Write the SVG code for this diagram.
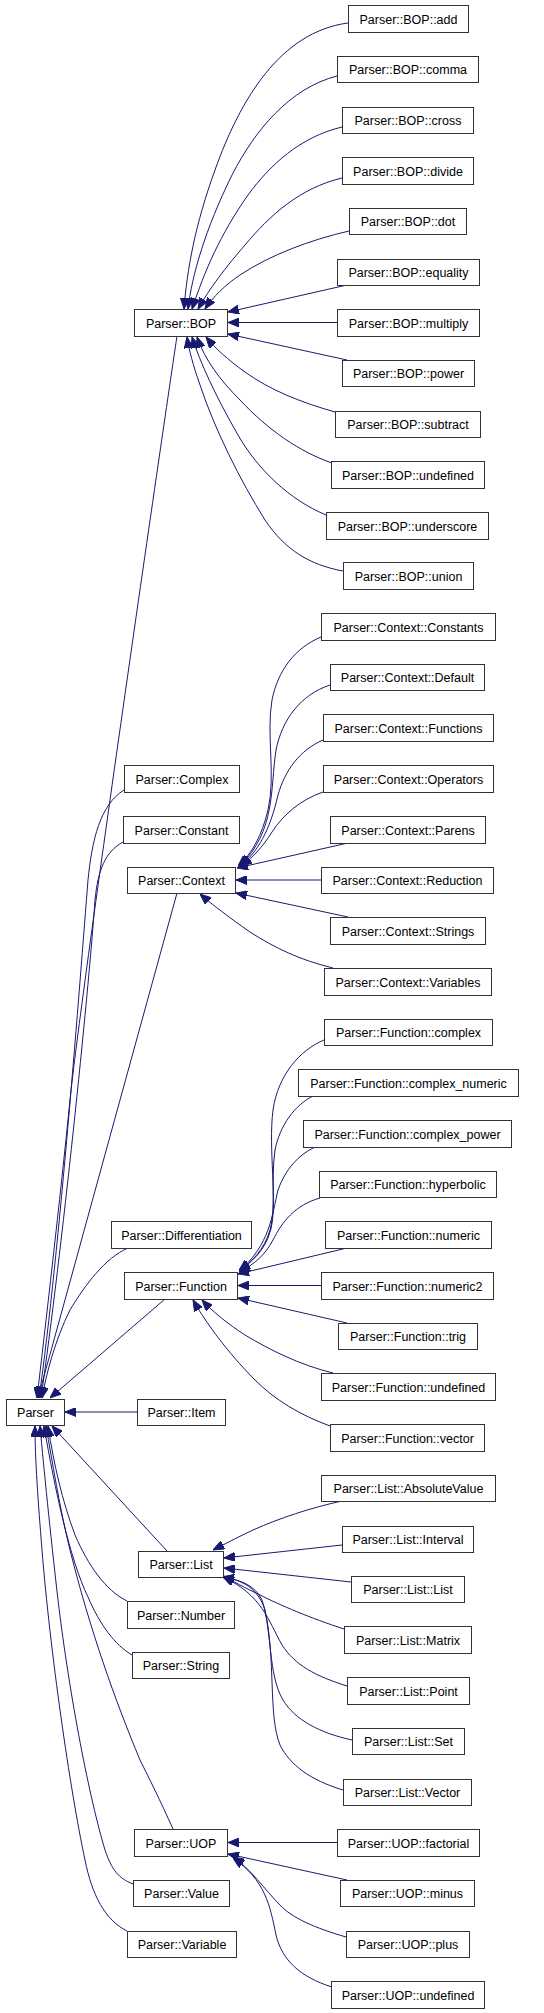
<svg xmlns="http://www.w3.org/2000/svg" width="544" height="2013" viewBox="0 0 544 2013">
<style>
.n rect{fill:#fff;stroke:#333;stroke-width:1}
.n text{font-family:"Liberation Sans",Arial,sans-serif;font-size:12.5px;text-anchor:middle;fill:#000}
#edges path{fill:none;stroke:#191970;stroke-width:1;marker-end:url(#a)}
</style>
<defs>
<marker id="a" markerUnits="userSpaceOnUse" viewBox="0 0 11 9" refX="11" refY="4.5" markerWidth="11" markerHeight="9" orient="auto">
<path d="M0,0 L11,4.5 L0,9 z" fill="#191970" stroke="#191970"/>
</marker>
</defs>
<rect width="544" height="2013" fill="#fff"/>
<g id="edges">
<!-- BOP children -->
<path d="M348,23 C280,32 240,100 215,170 C195,225 187,270 184,309"/>
<path d="M337,76 C290,88 255,130 232,175 C205,230 192,275 188,309"/>
<path d="M342,127 C300,137 270,165 248,195 C220,235 205,270 192,309"/>
<path d="M342,178 C300,188 270,215 245,245 C225,268 210,288 198,309"/>
<path d="M349,231 C310,240 270,255 240,275 C225,285 213,297 205,309"/>
<path d="M347,285 L228,312"/>
<path d="M337,322.5 L228,322.5"/>
<path d="M347,360 L228,334"/>
<path d="M335,412 C300,402 270,390 245,372 C228,360 215,348 206,337"/>
<path d="M332,463 C300,452 268,430 240,400 C220,380 205,360 197,337"/>
<path d="M326,515 C290,500 258,470 238,435 C215,395 200,362 192,337"/>
<path d="M343,571 C310,565 285,550 265,520 C240,480 215,430 200,385 C193,365 189,350 187,337"/>
<!-- Context children -->
<path d="M321,637 C295,648 278,670 272,700 C266,735 276,775 268,810 C262,835 252,854 238,866"/>
<path d="M330,685 C300,695 282,720 276,750 C270,790 276,830 240,866"/>
<path d="M323,740 C300,750 285,770 278,795 C270,830 258,852 240,866"/>
<path d="M323,792 C300,800 283,815 272,832 C262,848 252,858 241,866"/>
<path d="M348,843 L237,868"/>
<path d="M321,880 L236,880"/>
<path d="M348,917 L236,893"/>
<path d="M333,968 C300,960 275,948 250,932 C230,918 214,906 200,894"/>
<!-- Function children -->
<path d="M324,1040 C300,1050 278,1075 273,1110 C268,1150 278,1200 270,1230 C264,1250 252,1262 239,1270"/>
<path d="M313,1096 C295,1105 280,1125 275,1150 C270,1185 278,1215 268,1238 C262,1252 252,1262 239,1271"/>
<path d="M315,1147 C298,1155 285,1170 278,1190 C272,1215 270,1245 239,1271"/>
<path d="M320,1198 C295,1205 282,1222 273,1240 C265,1255 255,1264 239,1272"/>
<path d="M347,1248 L238,1274"/>
<path d="M321,1285.5 L238,1285.5"/>
<path d="M347,1323 L238,1298"/>
<path d="M333,1373 C300,1365 270,1350 245,1335 C228,1324 213,1312 202,1300"/>
<path d="M330,1426 C300,1415 275,1400 255,1380 C235,1360 210,1330 193,1300"/>
<!-- List children -->
<path d="M342,1501 C310,1508 280,1518 253,1530 C238,1537 225,1544 213,1550"/>
<path d="M342,1545 L224,1558"/>
<path d="M351,1582 L224,1568"/>
<path d="M344,1629 C310,1618 280,1605 260,1595 C245,1588 233,1581 223,1576"/>
<path d="M347,1686 C315,1676 295,1665 282,1645 C268,1620 262,1595 223,1577"/>
<path d="M352,1740 C320,1733 295,1720 283,1700 C268,1675 272,1630 262,1600 C255,1585 240,1580 223,1577"/>
<path d="M343,1790 C310,1780 290,1765 280,1745 C268,1715 276,1660 265,1610 C258,1588 242,1580 223,1577"/>
<!-- UOP children -->
<path d="M337,1842.5 L228,1842.5"/>
<path d="M347,1880 L228,1854"/>
<path d="M346,1937 C315,1928 292,1918 280,1905 C265,1890 250,1868 233,1857"/>
<path d="M332,1987 C300,1977 282,1960 276,1935 C270,1905 265,1880 233,1858"/>
<!-- Parser children -->
<path d="M177,336 C160,450 80,1000 70,1100 C60,1200 45,1330 37,1398"/>
<path d="M124,790 C100,805 92,840 88,880 C80,980 60,1250 39,1398"/>
<path d="M123,842 C105,852 98,870 95,900 C88,1000 62,1250 41,1398"/>
<path d="M177,893 L38,1398"/>
<path d="M128,1248 C105,1258 85,1285 70,1310 C55,1340 46,1375 42,1398"/>
<path d="M165,1299 L50,1398"/>
<path d="M137,1412 L65,1412"/>
<path d="M167,1551 L52,1426"/>
<path d="M127,1601 C105,1590 88,1565 75,1535 C62,1500 54,1465 48,1426"/>
<path d="M132,1655 C115,1645 100,1625 88,1597 C70,1560 55,1490 44,1426"/>
<path d="M173,1829 C160,1800 150,1780 140,1760 C115,1700 90,1630 70,1550 C60,1510 52,1460 46,1426"/>
<path d="M133,1884 C118,1878 112,1870 105,1850 C90,1800 70,1700 58,1600 C50,1530 44,1470 40,1426"/>
<path d="M127,1931 C105,1920 92,1895 85,1860 C70,1790 50,1650 42,1550 C38,1500 35,1460 35,1426"/>
</g>
<g id="Parser" class="n"><rect x="6.5" y="1399.5" width="58" height="26"/><text x="35.5" y="1417">Parser</text></g>
<g id="BOP" class="n"><rect x="134.5" y="309.5" width="93" height="27"/><text x="181" y="327.5">Parser::BOP</text></g>
<g id="Complex" class="n"><rect x="124.5" y="765.5" width="115" height="27"/><text x="182" y="783.5">Parser::Complex</text></g>
<g id="Constant" class="n"><rect x="123.5" y="816.5" width="116" height="27"/><text x="181.5" y="834.5">Parser::Constant</text></g>
<g id="Context" class="n"><rect x="127.5" y="867.5" width="108" height="26"/><text x="181.5" y="885">Parser::Context</text></g>
<g id="Differentiation" class="n"><rect x="111.5" y="1221.5" width="140" height="27"/><text x="181.5" y="1239.5">Parser::Differentiation</text></g>
<g id="Function" class="n"><rect x="124.5" y="1272.5" width="113" height="27"/><text x="181" y="1290.5">Parser::Function</text></g>
<g id="Item" class="n"><rect x="137.5" y="1399.5" width="88" height="26"/><text x="181.5" y="1417">Parser::Item</text></g>
<g id="List" class="n"><rect x="138.5" y="1551.5" width="85" height="26"/><text x="181" y="1569">Parser::List</text></g>
<g id="Number" class="n"><rect x="127.5" y="1601.5" width="107" height="27"/><text x="181" y="1619.5">Parser::Number</text></g>
<g id="String" class="n"><rect x="132.5" y="1652.5" width="97" height="26"/><text x="181" y="1670">Parser::String</text></g>
<g id="UOP" class="n"><rect x="134.5" y="1829.5" width="93" height="27"/><text x="181" y="1847.5">Parser::UOP</text></g>
<g id="Value" class="n"><rect x="133.5" y="1880.5" width="96" height="26"/><text x="181.5" y="1898">Parser::Value</text></g>
<g id="Variable" class="n"><rect x="127.5" y="1931.5" width="109" height="26"/><text x="182" y="1949">Parser::Variable</text></g>
<g id="BOP_add" class="n"><rect x="348.5" y="5.5" width="120" height="27"/><text x="408.5" y="23.5">Parser::BOP::add</text></g>
<g id="BOP_comma" class="n"><rect x="337.5" y="56.5" width="141" height="26"/><text x="408" y="74">Parser::BOP::comma</text></g>
<g id="BOP_cross" class="n"><rect x="342.5" y="107.5" width="131" height="26"/><text x="408" y="125">Parser::BOP::cross</text></g>
<g id="BOP_divide" class="n"><rect x="342.5" y="157.5" width="131" height="27"/><text x="408" y="175.5">Parser::BOP::divide</text></g>
<g id="BOP_dot" class="n"><rect x="349.5" y="208.5" width="117" height="26"/><text x="408" y="226">Parser::BOP::dot</text></g>
<g id="BOP_equality" class="n"><rect x="337.5" y="259.5" width="142" height="26"/><text x="408.5" y="277">Parser::BOP::equality</text></g>
<g id="BOP_multiply" class="n"><rect x="337.5" y="309.5" width="142" height="27"/><text x="408.5" y="327.5">Parser::BOP::multiply</text></g>
<g id="BOP_power" class="n"><rect x="342.5" y="360.5" width="132" height="26"/><text x="408.5" y="378">Parser::BOP::power</text></g>
<g id="BOP_subtract" class="n"><rect x="335.5" y="411.5" width="145" height="26"/><text x="408" y="429">Parser::BOP::subtract</text></g>
<g id="BOP_undefined" class="n"><rect x="331.5" y="461.5" width="153" height="27"/><text x="408" y="479.5">Parser::BOP::undefined</text></g>
<g id="BOP_underscore" class="n"><rect x="326.5" y="512.5" width="162" height="27"/><text x="407.5" y="530.5">Parser::BOP::underscore</text></g>
<g id="BOP_union" class="n"><rect x="343.5" y="562.5" width="130" height="27"/><text x="408.5" y="580.5">Parser::BOP::union</text></g>
<g id="Context_Constants" class="n"><rect x="321.5" y="613.5" width="174" height="27"/><text x="408.5" y="631.5">Parser::Context::Constants</text></g>
<g id="Context_Default" class="n"><rect x="330.5" y="664.5" width="154" height="26"/><text x="407.5" y="682">Parser::Context::Default</text></g>
<g id="Context_Functions" class="n"><rect x="323.5" y="714.5" width="170" height="27"/><text x="408.5" y="732.5">Parser::Context::Functions</text></g>
<g id="Context_Operators" class="n"><rect x="323.5" y="765.5" width="170" height="27"/><text x="408.5" y="783.5">Parser::Context::Operators</text></g>
<g id="Context_Parens" class="n"><rect x="330.5" y="816.5" width="155" height="27"/><text x="408" y="834.5">Parser::Context::Parens</text></g>
<g id="Context_Reduction" class="n"><rect x="321.5" y="867.5" width="172" height="26"/><text x="407.5" y="885">Parser::Context::Reduction</text></g>
<g id="Context_Strings" class="n"><rect x="330.5" y="917.5" width="155" height="27"/><text x="408" y="935.5">Parser::Context::Strings</text></g>
<g id="Context_Variables" class="n"><rect x="324.5" y="968.5" width="167" height="27"/><text x="408" y="986.5">Parser::Context::Variables</text></g>
<g id="Function_complex" class="n"><rect x="324.5" y="1019.5" width="168" height="26"/><text x="408.5" y="1037">Parser::Function::complex</text></g>
<g id="Function_complex_numeric" class="n"><rect x="298.5" y="1069.5" width="220" height="27"/><text x="408.5" y="1087.5">Parser::Function::complex_numeric</text></g>
<g id="Function_complex_power" class="n"><rect x="303.5" y="1120.5" width="208" height="27"/><text x="407.5" y="1138.5">Parser::Function::complex_power</text></g>
<g id="Function_hyperbolic" class="n"><rect x="319.5" y="1171.5" width="177" height="26"/><text x="408" y="1189">Parser::Function::hyperbolic</text></g>
<g id="Function_numeric" class="n"><rect x="325.5" y="1221.5" width="166" height="27"/><text x="408.5" y="1239.5">Parser::Function::numeric</text></g>
<g id="Function_numeric2" class="n"><rect x="321.5" y="1272.5" width="172" height="27"/><text x="407.5" y="1290.5">Parser::Function::numeric2</text></g>
<g id="Function_trig" class="n"><rect x="338.5" y="1323.5" width="139" height="26"/><text x="408" y="1341">Parser::Function::trig</text></g>
<g id="Function_undefined" class="n"><rect x="321.5" y="1373.5" width="174" height="27"/><text x="408.5" y="1391.5">Parser::Function::undefined</text></g>
<g id="Function_vector" class="n"><rect x="330.5" y="1424.5" width="154" height="27"/><text x="407.5" y="1442.5">Parser::Function::vector</text></g>
<g id="List_AbsoluteValue" class="n"><rect x="321.5" y="1475.5" width="174" height="26"/><text x="408.5" y="1493">Parser::List::AbsoluteValue</text></g>
<g id="List_Interval" class="n"><rect x="342.5" y="1526.5" width="131" height="26"/><text x="408" y="1544">Parser::List::Interval</text></g>
<g id="List_List" class="n"><rect x="351.5" y="1576.5" width="113" height="26"/><text x="408" y="1594">Parser::List::List</text></g>
<g id="List_Matrix" class="n"><rect x="344.5" y="1626.5" width="127" height="27"/><text x="408" y="1644.5">Parser::List::Matrix</text></g>
<g id="List_Point" class="n"><rect x="347.5" y="1677.5" width="122" height="27"/><text x="408.5" y="1695.5">Parser::List::Point</text></g>
<g id="List_Set" class="n"><rect x="352.5" y="1728.5" width="112" height="26"/><text x="408.5" y="1746">Parser::List::Set</text></g>
<g id="List_Vector" class="n"><rect x="343.5" y="1779.5" width="128" height="26"/><text x="407.5" y="1797">Parser::List::Vector</text></g>
<g id="UOP_factorial" class="n"><rect x="337.5" y="1829.5" width="142" height="27"/><text x="408.5" y="1847.5">Parser::UOP::factorial</text></g>
<g id="UOP_minus" class="n"><rect x="340.5" y="1880.5" width="134" height="26"/><text x="407.5" y="1898">Parser::UOP::minus</text></g>
<g id="UOP_plus" class="n"><rect x="346.5" y="1931.5" width="123" height="26"/><text x="408" y="1949">Parser::UOP::plus</text></g>
<g id="UOP_undefined" class="n"><rect x="331.5" y="1981.5" width="153" height="27"/><text x="408" y="1999.5">Parser::UOP::undefined</text></g>
</svg>
